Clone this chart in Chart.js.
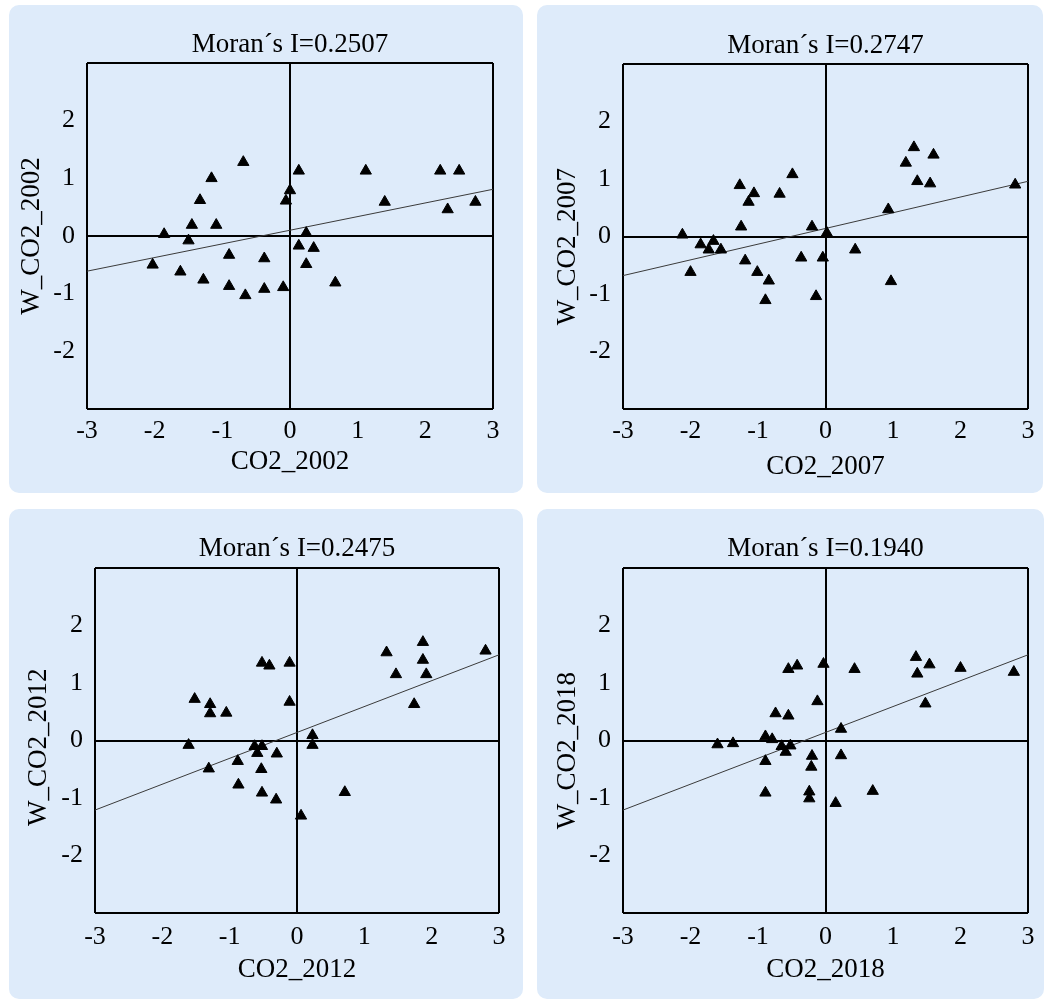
<!DOCTYPE html>
<html><head><meta charset="utf-8">
<script src="https://cdn.jsdelivr.net/npm/chart.js@4/dist/chart.umd.min.js"></script>
<style>
html,body{margin:0;padding:0;background:#fff;}
body{width:1044px;height:999px;position:relative;overflow:hidden;}
.panel{position:absolute;background:#deebfa;border-radius:10px;overflow:hidden;}
.panel canvas{position:absolute;left:0;top:0;}
</style></head><body>
<div class="panel" id="p0"><canvas id="c0"></canvas></div>
<div class="panel" id="p1"><canvas id="c1"></canvas></div>
<div class="panel" id="p2"><canvas id="c2"></canvas></div>
<div class="panel" id="p3"><canvas id="c3"></canvas></div>
<script>
// ---- data ----
const titles = ['Moran\u00b4s I=0.2507', 'Moran\u00b4s I=0.2747', 'Moran\u00b4s I=0.2475', 'Moran\u00b4s I=0.1940'];
const xTitles = ['CO2_2002', 'CO2_2007', 'CO2_2012', 'CO2_2018'];
const yTitles = ['W_CO2_2002', 'W_CO2_2007', 'W_CO2_2012', 'W_CO2_2018'];
const axisMin = -3, axisMax = 3;

const x2002 = [-2.03,-1.86,-1.62,-1.50,-1.45,-1.33,-1.28,-1.16,-1.09,-0.90,-0.90,-0.69,-0.66,-0.38,-0.38,-0.10,-0.06,0.00,0.13,0.13,0.24,0.24,0.35,0.67,1.12,1.40,2.22,2.33,2.50,2.74];
const y2002 = [-0.50,0.03,-0.62,-0.08,0.19,0.62,-0.76,1.00,0.19,-0.33,-0.87,1.28,-1.03,-0.39,-0.92,-0.89,0.61,0.79,1.13,-0.17,0.05,-0.49,-0.21,-0.81,1.13,0.59,1.13,0.46,1.13,0.59];

const x2007 = [-2.12,-2.00,-1.85,-1.73,-1.66,-1.55,-1.27,-1.25,-1.19,-1.06,-1.14,-1.01,-0.84,-0.89,-0.68,-0.49,-0.36,-0.20,-0.14,-0.04,0.02,0.44,0.93,0.97,1.19,1.31,1.36,1.55,1.60,2.81];
const y2007 = [0.03,-0.62,-0.14,-0.23,-0.08,-0.23,0.89,0.17,-0.42,0.75,0.60,-0.62,-0.77,-1.11,0.74,1.08,-0.37,0.17,-1.04,-0.37,0.06,-0.23,0.47,-0.78,1.28,1.55,0.96,0.92,1.42,0.90];

const x2012 = [-1.61,-1.52,-1.31,-1.29,-1.29,-1.05,-0.88,-0.87,-0.63,-0.59,-0.52,-0.53,-0.52,-0.52,-0.41,-0.30,-0.31,-0.11,-0.11,0.06,0.23,0.23,0.71,1.33,1.47,1.74,1.87,1.87,1.92,2.80];
const y2012 = [-0.08,0.72,-0.49,0.63,0.47,0.48,-0.36,-0.77,-0.10,-0.22,-0.10,-0.50,-0.91,1.35,1.30,-0.23,-1.03,1.35,0.67,-1.31,0.09,-0.08,-0.90,1.53,1.15,0.63,1.71,1.40,1.15,1.56];

const x2018 = [-1.60,-1.37,-0.89,-0.89,-0.89,-0.79,-0.74,-0.65,-0.59,-0.55,-0.52,-0.55,-0.42,-0.24,-0.24,-0.20,-0.21,-0.12,-0.03,0.15,0.23,0.23,0.43,0.70,1.34,1.36,1.48,1.54,2.00,2.79];
const y2018 = [-0.07,-0.05,0.07,-0.36,-0.91,0.02,0.47,-0.10,-0.20,0.43,-0.09,1.24,1.30,-1.01,-0.89,-0.27,-0.46,0.68,1.33,-1.09,0.20,-0.26,1.24,-0.88,1.45,1.16,0.64,1.32,1.26,1.19];

// regression (fit) line end points
const lineX = [-3, 3];
const line2002 = [-0.61, 0.81];
const line2007 = [-0.68, 0.96];
const line2012 = [-1.21, 1.49];
const line2018 = [-1.21, 1.49];

const xs = [x2002, x2007, x2012, x2018];
const ys = [y2002, y2007, y2012, y2018];
const lines = [line2002, line2007, line2012, line2018];

// ---- layout (panel geometry, canvas-local plot box) ----
const geom = [
  {left:9,  top:5,   w:514, h:488, L:78, R:484, T:58, B:404, tY:40, yT:23, yPad:0, xT:457, xk:426},
  {left:537,top:5,   w:506, h:488, L:86, R:491, T:59, B:404, tY:41, yT:31, yPad:3, xT:462, xk:426},
  {left:9,  top:509, w:514, h:490, L:86, R:490, T:59, B:404, tY:40, yT:30, yPad:2, xT:461, xk:428},
  {left:537,top:509, w:507, h:490, L:86, R:491, T:59, B:404, tY:40, yT:31, yPad:3, xT:461, xk:428}
];

const FAMILY = "'Liberation Serif','Times New Roman',serif";
const TITLE_SIZE = 27, TICK_SIZE = 26;
const tLH = TITLE_SIZE * 1.2, kLH = TICK_SIZE * 1.2;

function gridColor(ctx) {
  const v = ctx.tick ? ctx.tick.value : null;
  return (v === 0 || v === axisMin || v === axisMax) ? '#000' : 'rgba(0,0,0,0)';
}

geom.forEach((g, i) => {
  const div = document.getElementById('p' + i);
  div.style.left = g.left + 'px'; div.style.top = g.top + 'px';
  div.style.width = g.w + 'px'; div.style.height = g.h + 'px';
  const cv = document.getElementById('c' + i);
  cv.width = g.w; cv.height = g.h;
  cv.style.width = g.w + 'px'; cv.style.height = g.h + 'px';

  const pt = g.tY - tLH / 2;
  const tb = g.T - pt - tLH;
  const pts = xs[i].map((x, k) => ({x: x, y: ys[i][k]}));
  const lpts = lineX.map((x, k) => ({x: x, y: lines[i][k]}));

  new Chart(cv, {
    type: 'scatter',
    data: {
      datasets: [
        {type: 'line', data: lpts, borderColor: '#3a3a3a', borderWidth: 1, pointRadius: 0, fill: false, order: 2},
        {data: pts, pointStyle: 'triangle', pointRadius: 6.5, pointBackgroundColor: '#000', pointBorderColor: '#000', pointBorderWidth: 1, order: 1}
      ]
    },
    options: {
      responsive: false,
      animation: false,
      devicePixelRatio: 1,
      layout: {padding: {top: pt, left: 0, right: g.w - g.R, bottom: 0}},
      plugins: {
        legend: {display: false},
        tooltip: {enabled: false},
        title: {
          display: true, text: titles[i], fullSize: false, color: '#000',
          font: {family: FAMILY, size: TITLE_SIZE, weight: 'normal'},
          padding: {top: 0, bottom: tb}
        }
      },
      scales: {
        x: {
          type: 'linear', min: axisMin, max: axisMax,
          ticks: {stepSize: 1, color: '#000', padding: g.xk - g.B - kLH / 2, font: {family: FAMILY, size: TICK_SIZE}},
          grid: {color: gridColor, lineWidth: 2, drawTicks: false},
          border: {display: false},
          title: {display: true, text: xTitles[i], color: '#000', font: {family: FAMILY, size: TITLE_SIZE}, padding: {top: 0, bottom: g.h - g.xT - tLH / 2}},
          afterFit: (s) => { s.height = g.h - g.B; }
        },
        y: {
          type: 'linear', min: axisMin, max: axisMax,
          ticks: {stepSize: 1, color: '#000', padding: 12, font: {family: FAMILY, size: TICK_SIZE},
            callback: (v) => (v === axisMin || v === axisMax) ? '' : String(v)},
          grid: {color: gridColor, lineWidth: 2, drawTicks: false},
          border: {display: false},
          title: {display: true, text: yTitles[i] + ' '.repeat(g.yPad), color: '#000', font: {family: FAMILY, size: TITLE_SIZE}, padding: {top: g.yT - tLH / 2, bottom: 0}},
          afterFit: (s) => { s.width = g.L; }
        }
      }
    }
  });
});
</script>
</body></html>
